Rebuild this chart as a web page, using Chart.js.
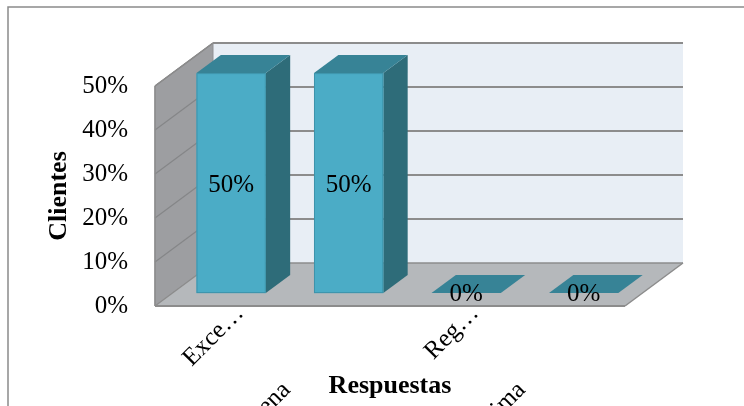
<!DOCTYPE html>
<html>
<head>
<meta charset="utf-8">
<script src="https://cdn.jsdelivr.net/npm/chart.js@4/dist/chart.umd.min.js"></script>
<style>
  html, body { margin: 0; padding: 0; background: #ffffff; }
  canvas { display: block; }
</style>
</head>
<body>
<canvas id="chart" width="744" height="406"></canvas>
<script>
// Survey answers and the share of clients for each one
const categories = ['Excelente', 'Buena', 'Regular', 'Pésima'];
const tickLabels = ['Exce…', 'Buena', 'Reg…', 'Pésima'];
const clientes = [50, 50, 0, 0];
const yTickValues = [0, 10, 20, 30, 40, 50];

const SERIF = '"Liberation Serif", "Times New Roman", serif';

// Depth of the 3D box (back wall offset from the front plane)
const DEPTH_X = 58;
const DEPTH_Y = 43;
// Bars sit between these fractions of the depth
const BAR_FRONT = 0.3;
const BAR_BACK = 0.72;

function poly(ctx, pts, fill, stroke, lw) {
  ctx.beginPath();
  ctx.moveTo(pts[0][0], pts[0][1]);
  for (let i = 1; i < pts.length; i++) ctx.lineTo(pts[i][0], pts[i][1]);
  ctx.closePath();
  if (fill) { ctx.fillStyle = fill; ctx.fill(); }
  if (stroke) { ctx.strokeStyle = stroke; ctx.lineWidth = lw || 1; ctx.stroke(); }
}

function line(ctx, x1, y1, x2, y2, color, lw) {
  ctx.beginPath();
  ctx.moveTo(x1, y1);
  ctx.lineTo(x2, y2);
  ctx.strokeStyle = color;
  ctx.lineWidth = lw;
  ctx.stroke();
}

const box3d = {
  id: 'box3d',
  beforeDraw(chart) {
    const ctx = chart.ctx;
    const { left, right } = chart.chartArea;
    const y = chart.scales.y;
    const yTop = y.getPixelForValue(y.max);
    const yBot = y.getPixelForValue(0);
    ctx.save();
    ctx.fillStyle = '#ffffff';
    ctx.fillRect(0, 0, chart.width, chart.height);

    // outer frame of the chart object
    ctx.strokeStyle = '#8a8a8a';
    ctx.lineWidth = 1.5;
    ctx.strokeRect(8, 7, chart.width + 20, chart.height + 20);

    // back wall
    poly(ctx, [[left + DEPTH_X, yTop - DEPTH_Y], [right + DEPTH_X, yTop - DEPTH_Y],
               [right + DEPTH_X, yBot - DEPTH_Y], [left + DEPTH_X, yBot - DEPTH_Y]], '#e8eef5');
    // side wall
    poly(ctx, [[left, yBot], [left, yTop], [left + DEPTH_X, yTop - DEPTH_Y], [left + DEPTH_X, yBot - DEPTH_Y]],
         '#9d9ea1', '#8f9093', 1);
    // floor
    poly(ctx, [[left, yBot], [right, yBot], [right + DEPTH_X, yBot - DEPTH_Y], [left + DEPTH_X, yBot - DEPTH_Y]],
         '#b5b8bb');

    // gridlines on the side and back walls
    yTickValues.forEach(v => {
      if (v === 0) return;
      const py = y.getPixelForValue(v);
      line(ctx, left, py, left + DEPTH_X, py - DEPTH_Y, '#858688', 1.2);
      line(ctx, left + DEPTH_X, py - DEPTH_Y, right + DEPTH_X, py - DEPTH_Y, '#8c8c8c', 1.8);
    });

    // floor edges
    line(ctx, left + DEPTH_X, yBot - DEPTH_Y, right + DEPTH_X, yBot - DEPTH_Y, '#8c8c8c', 1.5);
    line(ctx, left, yBot, left + DEPTH_X, yBot - DEPTH_Y, '#8c8c8c', 1.2);
    line(ctx, right, yBot, right + DEPTH_X, yBot - DEPTH_Y, '#8c8c8c', 1.5);
    line(ctx, left, yBot, right, yBot, '#8c8c8c', 2);
    // wall edges
    line(ctx, left, yBot, left, yTop, '#8c8c8c', 1.5);
    line(ctx, left, yTop, left + DEPTH_X, yTop - DEPTH_Y, '#8c8c8c', 1.5);
    line(ctx, left + DEPTH_X, yTop - DEPTH_Y, right + DEPTH_X, yTop - DEPTH_Y, '#8c8c8c', 2);
    ctx.restore();
  },
  afterDatasetsDraw(chart) {
    const ctx = chart.ctx;
    const meta = chart.getDatasetMeta(0);
    const fdx = BAR_FRONT * DEPTH_X, fdy = BAR_FRONT * DEPTH_Y;
    const ddx = (BAR_BACK - BAR_FRONT) * DEPTH_X, ddy = (BAR_BACK - BAR_FRONT) * DEPTH_Y;
    ctx.save();
    meta.data.forEach((el, i) => {
      const p = el.getProps(['x', 'y', 'base', 'width'], true);
      const x0 = p.x - p.width / 2 + fdx;
      const x1 = p.x + p.width / 2 + fdx;
      const yt = p.y - fdy;
      const yb = p.base - fdy;
      // right side
      poly(ctx, [[x1, yt], [x1 + ddx, yt - ddy], [x1 + ddx, yb - ddy], [x1, yb]], '#2e6c79');
      // top
      poly(ctx, [[x0, yt], [x1, yt], [x1 + ddx, yt - ddy], [x0 + ddx, yt - ddy]], '#378396');
      // front
      if (yb - yt > 0.5) {
        ctx.fillStyle = '#4bacc6';
        ctx.fillRect(x0, yt, x1 - x0, yb - yt);
        ctx.strokeStyle = '#3d93aa';
        ctx.lineWidth = 1;
        ctx.strokeRect(x0 + 0.5, yt + 0.5, x1 - x0 - 1, yb - yt - 1);
      }
      // value label
      ctx.fillStyle = '#000000';
      ctx.font = '25px ' + SERIF;
      ctx.textAlign = 'center';
      ctx.textBaseline = 'middle';
      const v = chart.data.datasets[0].data[i];
      const ly = yb - yt > 0.5 ? (yt + yb) / 2 + 2 : yb + 1;
      ctx.fillText(v + '%', (x0 + x1) / 2, ly);
    });
    ctx.restore();
  },
  afterDraw(chart) {
    // slanted category labels, alternating between two rows
    const ctx = chart.ctx;
    const x = chart.scales.x;
    ctx.save();
    ctx.fillStyle = '#000000';
    ctx.font = '25px ' + SERIF;
    ctx.textAlign = 'right';
    ctx.textBaseline = 'alphabetic';
    tickLabels.forEach((t, i) => {
      const px = x.getPixelForValue(i);
      const ax = i % 2 === 0 ? px + 31 : px - 40;
      const ay = i % 2 === 0 ? 314 : 391;
      ctx.save();
      ctx.translate(ax, ay);
      ctx.rotate(-Math.PI / 4);
      ctx.fillText(t, 0, 0);
      ctx.restore();
    });
    ctx.restore();
  }
};

new Chart(document.getElementById('chart'), {
  type: 'bar',
  data: {
    labels: categories,
    datasets: [{
      label: 'Clientes',
      data: clientes,
      backgroundColor: 'rgba(0,0,0,0)',
      borderWidth: 0,
      categoryPercentage: 1,
      barPercentage: 0.59
    }]
  },
  options: {
    responsive: false,
    animation: false,
    events: [],
    layout: { padding: { left: 0, top: 86, right: 119, bottom: 0 } },
    plugins: { legend: { display: false }, tooltip: { enabled: false } },
    scales: {
      x: {
        display: true,
        grid: { display: false, drawTicks: false },
        border: { display: false },
        ticks: { display: false },
        title: {
          display: true,
          text: 'Respuestas',
          color: '#000000',
          font: { family: SERIF, size: 26, weight: 'bold' },
          padding: { top: 0, bottom: 4 }
        },
        afterFit(scale) { scale.height = 100; }
      },
      y: {
        min: 0,
        max: 50,
        grid: { display: false, drawTicks: false, tickLength: 0 },
        border: { display: false },
        ticks: {
          stepSize: 10,
          padding: 27,
          color: '#000000',
          font: { family: SERIF, size: 25 },
          callback: v => v + '%'
        },
        title: {
          display: true,
          text: 'Clientes',
          color: '#000000',
          font: { family: SERIF, size: 26, weight: 'bold' },
          padding: { top: 44, bottom: 0 }
        },
        afterFit(scale) { scale.width = 155; }
      }
    }
  },
  plugins: [box3d]
});
</script>
</body>
</html>
